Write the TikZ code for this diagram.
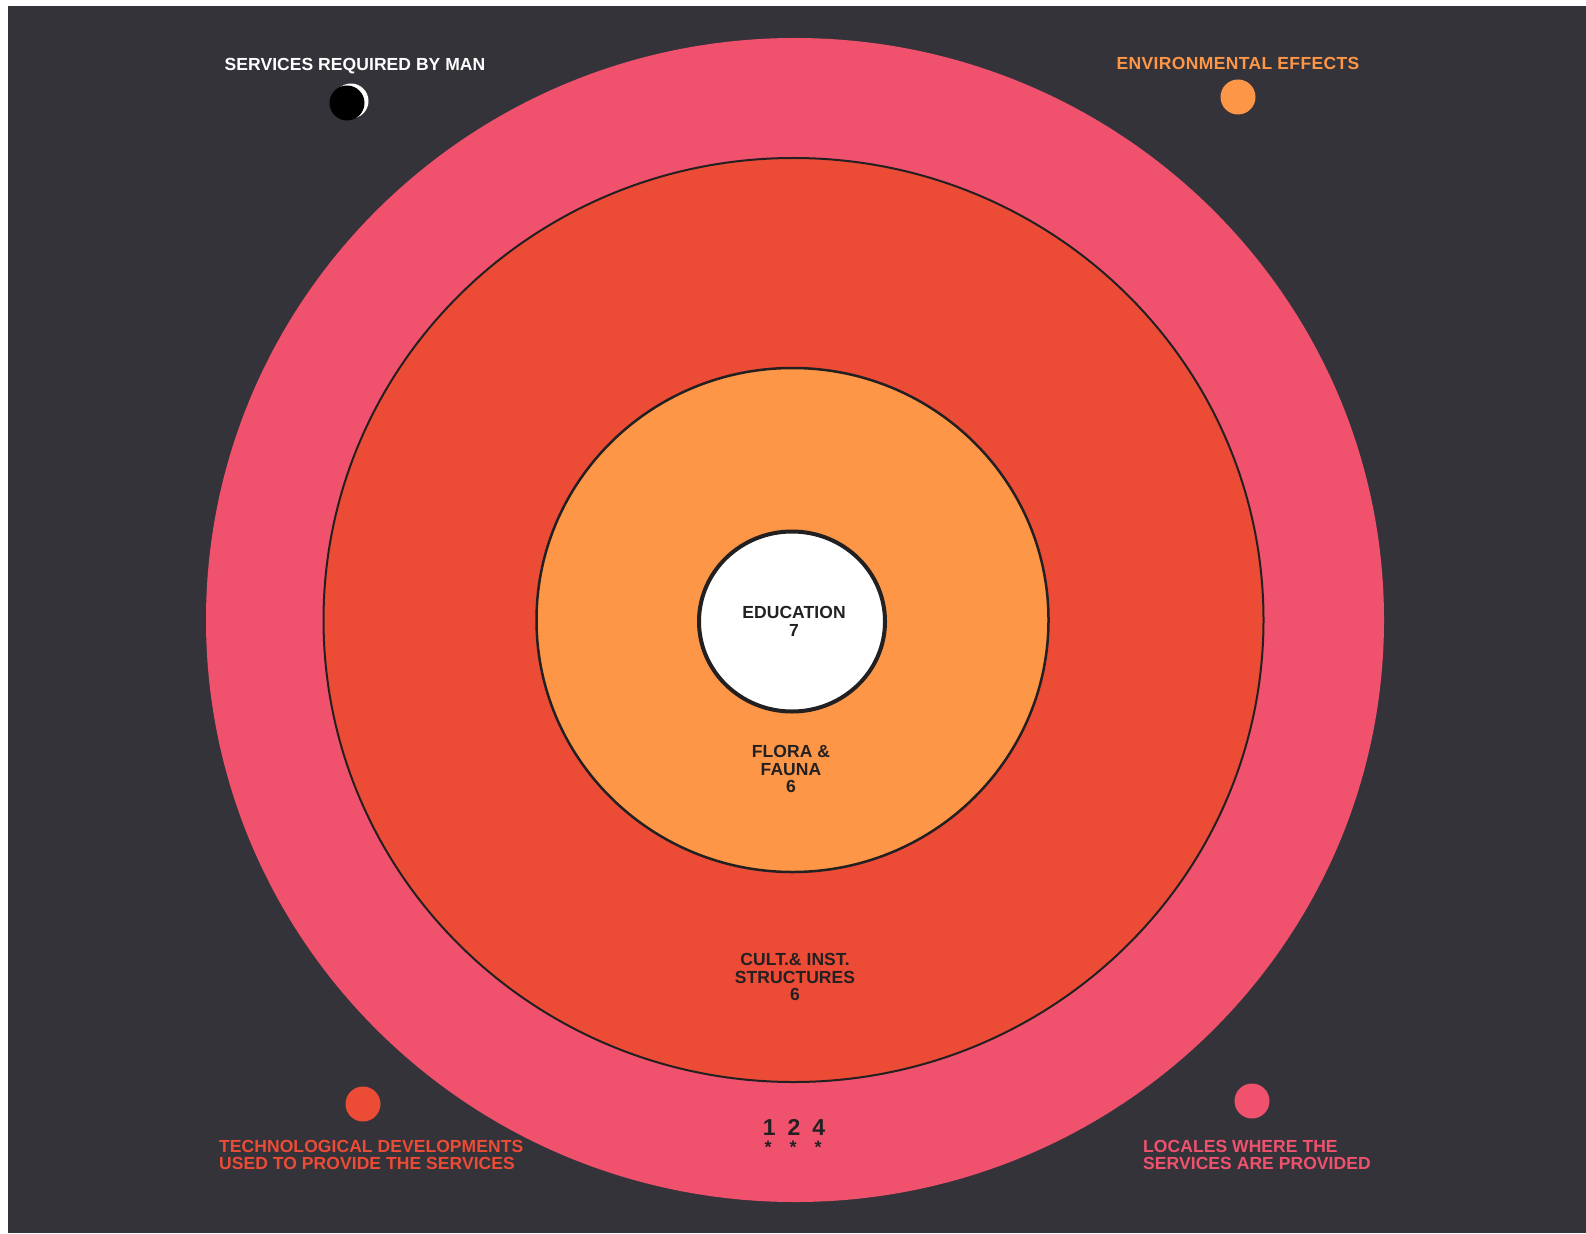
\documentclass[tikz,border=0pt]{standalone}
\usepackage{fontspec}
\setmainfont{Liberation Sans}
\usepackage{xcolor}
\usepackage{tikz}
\definecolor{board}{RGB}{53,51,58}
\definecolor{ringpink}{RGB}{240,82,110}
\definecolor{ringred}{RGB}{236,75,54}
\definecolor{ringorange}{RGB}{253,150,70}
\definecolor{inkc}{RGB}{35,32,34}

\begin{document}
\begin{tikzpicture}[x=1pt,y=-1pt,font=\fontsize{17.5}{17.8}\selectfont\bfseries\addfontfeature{LetterSpace=0.4}]
\tikzstyle{lbl}=[inner sep=0pt,align=center,text=inkc]
\tikzstyle{key}=[inner sep=0pt,align=center]
\tikzstyle{dot}=[circle,inner sep=0pt,minimum size=35pt]
\useasboundingbox (0,0) rectangle (1586,1233);
\fill[white] (0,0) rectangle (1586,1233);
\fill[board] (8,6) rectangle (1586,1233);
% rings, outside in
\fill[ringpink] (795,620) ellipse [x radius=589,y radius=582];
\draw[ringred,fill=ringred] (793.5,620) ellipse [x radius=470,y radius=462];
\draw[inkc,line width=2pt] (793.5,620) ellipse [x radius=470,y radius=462];
\draw[inkc,fill=ringorange,line width=2.5pt] (792.5,620) ellipse [x radius=256,y radius=252];
\draw[inkc,fill=white,line width=4pt] (792,621.5) ellipse [x radius=93,y radius=90];
% ring labels
\node[lbl] (edu) at (794,621) {EDUCATION\\7};
\node[lbl] (flora) at (791,769) {FLORA \&\\FAUNA\\6};
\node[lbl] (cult) at (795,977) {CULT.\& INST.\\STRUCTURES\\6};
\node[lbl,font=\fontsize{23}{23}\selectfont\bfseries] (nums) at (794,1127) {1\hspace{12pt}2\hspace{12pt}4};
\foreach \sx in {768,793,818}
  \node[lbl,font=\fontsize{18}{18}\selectfont\bfseries] (star\sx) at (\sx,1147) {*};
% legend: top left
\node[key,text=white] (man) at (355,66) {SERVICES REQUIRED BY MAN};
\node[dot,fill=white] (manrim) at (351,101) {};
\node[dot,fill=black] (mandot) at (347,103) {};
% legend: top right
\node[key,text=ringorange,font=\fontsize{17.5}{17.8}\selectfont\bfseries\addfontfeature{LetterSpace=2}] (env) at (1238,63) {ENVIRONMENTAL EFFECTS};
\node[dot,fill=ringorange] (envdot) at (1238,97) {};
% legend: bottom left
\node[dot,fill=ringred] (techdot) at (363,1104) {};
\node[key,text=ringred,align=left,anchor=west] (tech) at (219,1155) {TECHNOLOGICAL DEVELOPMENTS\\USED TO PROVIDE THE SERVICES};
% legend: bottom right
\node[dot,fill=ringpink] (locdot) at (1252,1101) {};
\node[key,text=ringpink,align=left,anchor=west] (loc) at (1143,1155) {LOCALES WHERE THE\\SERVICES ARE PROVIDED};
\end{tikzpicture}
\end{document}
